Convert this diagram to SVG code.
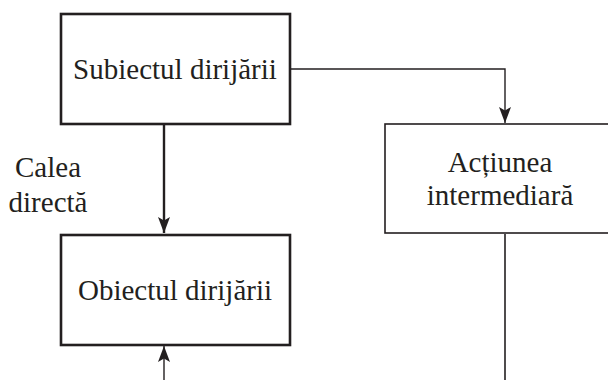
<svg xmlns="http://www.w3.org/2000/svg" width="608" height="380" viewBox="0 0 608 380">
  <style>
    .box { fill: #fff; stroke: #231f20; }
    .thick { stroke-width: 2.6; }
    .thin { stroke-width: 1.6; }
    .lbl { font-family: "Liberation Serif", Tinos, "Times New Roman", serif; font-size: 29px; fill: #231f20; }
    .mid { text-anchor: middle; }
    .wire { fill: none; stroke: #231f20; }
  </style>
  <defs>
    <marker id="head" viewBox="0 0 16 12" refX="16" refY="6" markerWidth="16" markerHeight="12" markerUnits="userSpaceOnUse" orient="auto">
      <path d="M0,0 L16,6 L0,12 L3.5,6 Z" fill="#231f20"/>
    </marker>
  </defs>

  <g id="connectors">
    <path class="wire" d="M164,125 V233" stroke-width="2.4" marker-end="url(#head)"/>
    <path class="wire" d="M291,69 H505 V123" stroke-width="1.4" marker-end="url(#head)"/>
    <path class="wire" d="M505,234 V380" stroke-width="1.6"/>
    <path class="wire" d="M164,380 V346" stroke-width="1.4" marker-end="url(#head)"/>
  </g>

  <g id="subiect">
    <rect class="box thick" x="61" y="14" width="229" height="110"/>
    <text class="lbl mid" x="175" y="79">Subiectul dirijării</text>
  </g>

  <g id="cale-label">
    <text class="lbl mid" x="48" y="177">Calea</text>
    <text class="lbl mid" x="48" y="212">directă</text>
  </g>

  <g id="obiect">
    <rect class="box thick" x="61" y="235" width="229" height="110"/>
    <text class="lbl mid" x="175" y="300">Obiectul dirijării</text>
  </g>

  <g id="actiune">
    <rect class="box thin" x="385" y="124" width="232" height="109"/>
    <text class="lbl mid" x="500" y="172">Acțiunea</text>
    <text class="lbl mid" x="500" y="205">intermediară</text>
  </g>
</svg>
